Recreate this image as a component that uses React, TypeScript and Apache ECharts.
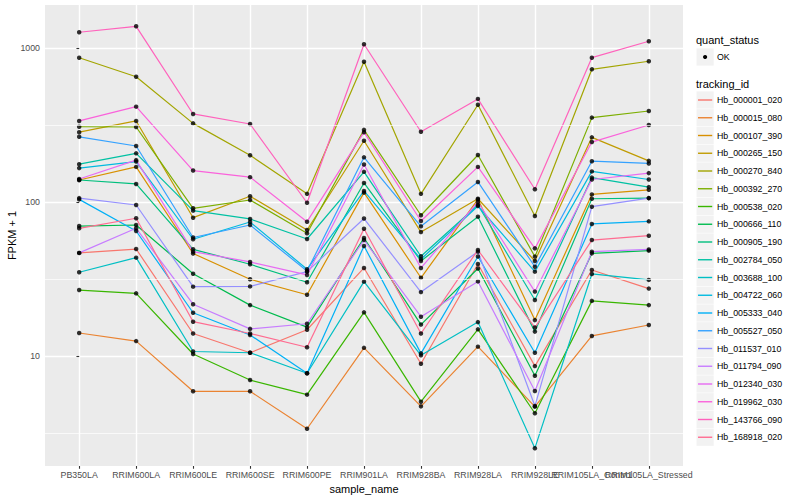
import React, { useEffect, useRef } from "react";
import * as echarts from "echarts";

const categories = [
  "PB350LA", "RRIM600LA", "RRIM600LE", "RRIM600SE", "RRIM600PE", "RRIM901LA",
  "RRIM928BA", "RRIM928LA", "RRIM928LE", "RRIM105LA_Control", "RRIM105LA_Stressed",
];

const trackingIds = [
  "Hb_000001_020", "Hb_000015_080", "Hb_000107_390", "Hb_000265_150", "Hb_000270_840",
  "Hb_000392_270", "Hb_000538_020", "Hb_000666_110", "Hb_000905_190", "Hb_002784_050",
  "Hb_003688_100", "Hb_004722_060", "Hb_005333_040", "Hb_005527_050", "Hb_011537_010",
  "Hb_011794_090", "Hb_012340_030", "Hb_019962_030", "Hb_143766_090", "Hb_168918_020",
];

const colors = [
  "#F8766D", "#EA8331", "#D89000", "#C09B00", "#A3A500", "#7CAE00", "#39B600", "#00BB4E",
  "#00BF7D", "#00C1A3", "#00BFC4", "#00BAE0", "#00B0F6", "#35A2FF", "#9590FF", "#C77CFF",
  "#E76BF3", "#FA62DB", "#FF62BC", "#FF6C91",
];

// FPKM + 1 per sample, in category order
const hb_000001_020 = [46.7, 49.5, 14.0, 10.5, 14.8, 37.3, 8.9, 39.6, 8.6, 36.2, 27.4];
const hb_000015_080 = [14.1, 12.5, 5.9, 5.9, 3.37, 11.3, 4.71, 11.5, 4.69, 13.5, 15.9];
const hb_000107_390 = [139, 169, 46.3, 31.5, 25.0, 115, 32.2, 104, 17.1, 112, 120];
const hb_000265_150 = [284, 336, 79.1, 109, 65.8, 250, 63.8, 105, 41.4, 263, 185];
const hb_000270_840 = [865, 651, 324, 201, 113, 815, 113, 428, 81.1, 727, 820];
const hb_000392_270 = [308, 307, 91.0, 103, 62.6, 294, 82.0, 202, 44.2, 353, 390];
const hb_000538_020 = [26.8, 25.5, 10.3, 6.98, 5.61, 19.2, 5.05, 14.9, 4.25, 22.8, 21.4];
const hb_000666_110 = [69.8, 70.9, 34.2, 21.4, 15.4, 58.4, 16.0, 37.0, 7.45, 46.4, 48.3];
const hb_000905_190 = [139, 131, 49.3, 39.4, 30.1, 133, 41.4, 80.3, 14.4, 105, 106];
const hb_002784_050 = [176, 207, 87.9, 77.6, 57.5, 157, 44.4, 95.6, 23.1, 144, 125];
const hb_003688_100 = [35.0, 43.5, 10.7, 10.5, 7.72, 30.4, 10.1, 16.6, 2.52, 34.1, 31.2];
const hb_004722_060 = [166, 183, 57.3, 74.1, 36.6, 118, 42.5, 94.2, 35.3, 158, 140];
const hb_005333_040 = [104, 64.8, 19.1, 13.7, 7.72, 51.8, 10.4, 44.3, 10.5, 72.0, 74.9];
const hb_005527_050 = [265, 231, 58.8, 70.9, 35.6, 195, 69.5, 135, 38.0, 184, 178];
const hb_011537_010 = [106, 95.6, 28.2, 28.3, 35.3, 78.1, 26.0, 47.6, 4.73, 93.2, 106];
const hb_011794_090 = [46.7, 67.5, 21.7, 15.0, 16.2, 56.6, 18.0, 30.5, 5.92, 47.6, 49.2];
const hb_012340_030 = [141, 187, 47.6, 40.8, 33.6, 175, 37.3, 100, 26.2, 140, 154];
const hb_019962_030 = [336, 416, 160, 145, 74.5, 284, 75.3, 169, 50.0, 245, 316];
const hb_143766_090 = [1265, 1383, 373, 321, 98.9, 1057, 286, 467, 121, 865, 1106];
const hb_168918_020 = [67.5, 78.4, 16.7, 14.0, 11.4, 67.1, 14.0, 48.8, 15.3, 56.6, 60.4];

const seriesValues = [
  hb_000001_020, hb_000015_080, hb_000107_390, hb_000265_150, hb_000270_840,
  hb_000392_270, hb_000538_020, hb_000666_110, hb_000905_190, hb_002784_050,
  hb_003688_100, hb_004722_060, hb_005333_040, hb_005527_050, hb_011537_010,
  hb_011794_090, hb_012340_030, hb_019962_030, hb_143766_090, hb_168918_020,
];

const yTickLabels = [10, 100, 1000];
const yMinorBreaks = [3.162, 31.62, 316.2];
const quantStatus = ["OK"];

const FONT = "'Liberation Sans', Arial, Helvetica, sans-serif";

// layout (pixels)
const PANEL_L = 45;
const PANEL_R = 683;
const PANEL_T = 5;
const PANEL_B = 466;
const DECADE = 154;
const Y1000 = 48;
const X_EXPAND = 0.6;
const LEG_X = 696.5;
const LEG_TOP = 100;
const LEG_STEP = 17.75;
const KEY = 17.2;

export default function App() {
  const ref = useRef<HTMLDivElement>(null);

  useEffect(() => {
    if (!ref.current) return;
    const chart = echarts.init(ref.current, undefined, { renderer: "svg" });

    const n = categories.length;
    const band = (PANEL_R - PANEL_L) / (n - 1 + 2 * X_EXPAND);
    const firstX = PANEL_L + X_EXPAND * band;
    const lastX = firstX + (n - 1) * band;

    const lineSeries = trackingIds.map((id, k) => ({
      type: "line",
      name: id,
      xAxisIndex: 1,
      yAxisIndex: 1,
      data: seriesValues[k].map((v, i) => [i, v]),
      symbol: "none",
      silent: true,
      z: 2,
      lineStyle: { color: colors[k], width: 1.2 },
      itemStyle: { color: colors[k] },
    }));

    const points: number[][] = [];
    seriesValues.forEach((vals) => vals.forEach((v, i) => points.push([i, v])));

    const legendItems: any[] = [];
    trackingIds.forEach((id, i) => {
      const cy = LEG_TOP + i * LEG_STEP;
      legendItems.push(
        {
          type: "rect",
          silent: true,
          shape: { x: LEG_X, y: cy - KEY / 2, width: KEY, height: KEY },
          style: { fill: "#F2F2F2" },
        },
        {
          type: "line",
          silent: true,
          shape: { x1: LEG_X + 1.5, y1: cy, x2: LEG_X + KEY - 1.5, y2: cy },
          style: { stroke: colors[i], lineWidth: 1.4 },
        },
        {
          type: "text",
          x: 717,
          y: cy,
          style: { text: id, fontSize: 8.8, fill: "#000000", verticalAlign: "middle", fontFamily: FONT },
        }
      );
    });

    chart.setOption({
      animation: false,
      backgroundColor: "#ffffff",
      textStyle: { fontFamily: FONT },
      grid: [
        {
          left: firstX, top: PANEL_T, width: lastX - firstX, height: PANEL_B - PANEL_T,
          containLabel: false, outerBoundsMode: "none",
        },
        {
          left: PANEL_L, top: Y1000 - DECADE, width: PANEL_R - PANEL_L, height: 4 * DECADE,
          containLabel: false, outerBoundsMode: "none",
        },
      ],
      xAxis: [
        {
          gridIndex: 0,
          type: "category",
          data: categories,
          boundaryGap: false,
          axisLine: { show: false },
          axisTick: { show: true, interval: 0, length: 2.75, lineStyle: { color: "#333333", width: 1.1 } },
          axisLabel: { interval: 0, fontSize: 8.8, color: "#4D4D4D", margin: 4, hideOverlap: false, fontFamily: FONT },
          splitLine: { show: true, interval: 0, lineStyle: { color: "#ffffff", width: 1.4 } },
          name: "sample_name",
          nameLocation: "middle",
          nameGap: 14,
          nameTextStyle: { fontSize: 11, color: "#000000", fontFamily: FONT },
        },
        { gridIndex: 1, type: "value", min: -X_EXPAND, max: n - 1 + X_EXPAND, show: false },
      ],
      yAxis: [
        { gridIndex: 0, type: "value", show: false },
        {
          gridIndex: 1,
          type: "log",
          logBase: 10,
          min: 1,
          max: 10000,
          axisLine: { show: false },
          axisTick: { show: true, length: 2.75, lineStyle: { color: "#333333", width: 1.1 } },
          axisLabel: {
            fontSize: 8.8,
            color: "#4D4D4D",
            margin: 5,
            fontFamily: FONT,
            formatter: (v: number) => (yTickLabels.includes(Math.round(v)) ? String(Math.round(v)) : ""),
          },
          splitLine: { show: true, lineStyle: { color: "#ffffff", width: 1.4 } },
        },
      ],
      graphic: [
        {
          type: "rect",
          silent: true,
          z: -10,
          shape: { x: PANEL_L, y: PANEL_T, width: PANEL_R - PANEL_L, height: PANEL_B - PANEL_T },
          style: { fill: "#EBEBEB" },
        },
        {
          type: "text",
          x: 12,
          y: (PANEL_T + PANEL_B) / 2,
          rotation: Math.PI / 2,
          style: { text: "FPKM + 1", fontSize: 11, fill: "#000000", align: "center", verticalAlign: "middle", fontFamily: FONT },
        },
        {
          type: "text",
          x: 696,
          y: 40,
          style: { text: "quant_status", fontSize: 11, fill: "#000000", verticalAlign: "middle", fontFamily: FONT },
        },
        {
          type: "rect",
          silent: true,
          shape: { x: LEG_X, y: 57 - KEY / 2, width: KEY, height: KEY },
          style: { fill: "#F2F2F2" },
        },
        { type: "circle", silent: true, shape: { cx: LEG_X + KEY / 2, cy: 57, r: 2.1 }, style: { fill: "#000000" } },
        {
          type: "text",
          x: 717,
          y: 57,
          style: { text: quantStatus[0], fontSize: 8.8, fill: "#000000", verticalAlign: "middle", fontFamily: FONT },
        },
        {
          type: "text",
          x: 696,
          y: 84,
          style: { text: "tracking_id", fontSize: 11, fill: "#000000", verticalAlign: "middle", fontFamily: FONT },
        },
        ...legendItems,
      ],
      series: [
        {
          type: "line",
          name: "minor-grid",
          xAxisIndex: 1,
          yAxisIndex: 1,
          data: [],
          z: 1,
          silent: true,
          markLine: {
            silent: true,
            symbol: ["none", "none"],
            label: { show: false },
            lineStyle: { color: "#ffffff", width: 0.7, type: "solid" },
            data: yMinorBreaks.map((v) => ({ yAxis: v })),
          },
        },
        ...lineSeries,
        {
          type: "scatter",
          name: quantStatus[0],
          xAxisIndex: 1,
          yAxisIndex: 1,
          data: points,
          symbol: "circle",
          symbolSize: 4.5,
          silent: true,
          z: 3,
          itemStyle: { color: "#000000" },
        },
      ],
    });

    return () => chart.dispose();
  }, []);

  return (
    <div
      ref={ref}
      style={{ position: "fixed", left: 0, top: 0, width: 800, height: 500, background: "#ffffff" }}
    />
  );
}
